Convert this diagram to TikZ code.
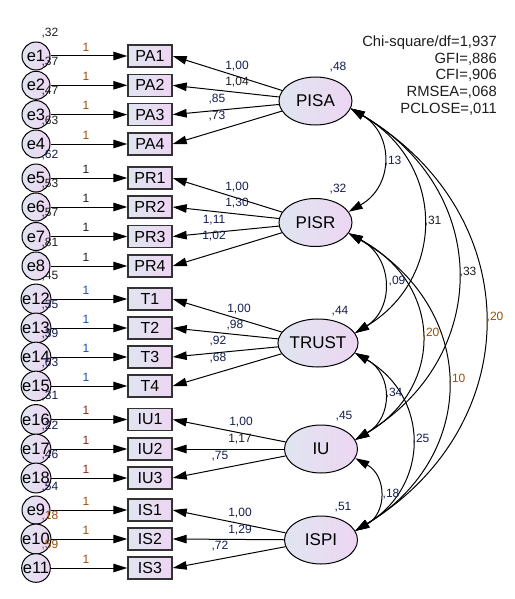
\documentclass[tikz,border=0pt]{standalone}
\usepackage{fontspec}
\setmainfont{Liberation Sans}
\usetikzlibrary{arrows.meta,calc,shapes.geometric}
\definecolor{fillL}{RGB}{224,229,240}
\definecolor{fillR}{RGB}{237,214,242}
\definecolor{cBrown}{RGB}{150,80,10}
\definecolor{cRed}{RGB}{140,40,20}
\definecolor{cBlue}{RGB}{20,80,170}
\definecolor{cNavy}{RGB}{20,30,80}
\definecolor{cDark}{RGB}{30,30,30}
\newcommand{\indrow}[7]{%
  \node[obs] (#1) at (150,#2) {#1};
  \node[err] (#3) at (36,#2) {#3};
  \draw[reg] (#3) -- (#1);
  \node[num, text=#5] (one#3) at (86,#2-9) {1};
  \node[num, text=#6] (v#3) at (50,#2-23) {#4};
  \draw[reg] (#7) -- (#1.east);
}
\begin{document}
\begin{tikzpicture}[x=1pt,y=-1pt,
  obs/.style={draw=black!80, line width=1.4pt, minimum width=44pt, minimum height=22pt,
    inner sep=0pt, left color=fillL, right color=fillR, font=\fontsize{16}{16}\selectfont},
  err/.style={circle, draw=black, line width=1pt, minimum size=28pt, inner sep=0pt,
    left color=fillL, right color=fillR, font=\fontsize{16.5}{16.5}\selectfont},
  lat/.style={ellipse, draw=black, line width=1pt, minimum width=73pt, minimum height=48pt,
    inner sep=0pt, left color=fillL, right color=fillR, font=\fontsize{17}{17}\selectfont},
  num/.style={inner sep=0pt, font=\fontsize{12}{12}\selectfont},
  tip/.tip={Triangle[length=14pt,width=8.5pt]},
  reg/.style={line width=1pt, -tip},
  cov/.style={line width=1pt, tip-tip},
]
\fill[white, use as bounding box] (0,0) rectangle (514,599);

% latent variables
\node[lat] (PISA)  at (315.5,101) {PISA};
\node[lat] (PISR)  at (315.5,222.5) {PISR};
\node[lat] (TRUST) at (318,343) {TRUST};
\node[lat] (IU)    at (321,449) {IU};
\node[lat] (ISPI)  at (321,540) {ISPI};

\node[num, text=cNavy] (vPISA)  at (338,67)  {,48};
\node[num, text=cNavy] (vPISR)  at (338,189) {,32};
\node[num, text=cNavy] (vTRUST) at (340,311) {,44};
\node[num, text=cNavy] (vIU)    at (344,416) {,45};
\node[num, text=cNavy] (vISPI)  at (343,507) {,51};

% indicators
\indrow{PA1}{56}{e1}{,32}{cBrown}{cDark}{PISA}
\indrow{PA2}{85.3}{e2}{,37}{cBrown}{cDark}{PISA}
\indrow{PA3}{114.6}{e3}{,47}{cBrown}{cDark}{PISA}
\indrow{PA4}{144}{e4}{,63}{cBrown}{cDark}{PISA}
\indrow{PR1}{178}{e5}{,62}{cDark}{cNavy}{PISR}
\indrow{PR2}{207}{e6}{,53}{cDark}{cDark}{PISR}
\indrow{PR3}{236.5}{e7}{,57}{cDark}{cDark}{PISR}
\indrow{PR4}{266}{e8}{,81}{cDark}{cDark}{PISR}
\indrow{T1}{299}{e12}{,45}{cBlue}{cDark}{TRUST}
\indrow{T2}{328}{e13}{,35}{cBlue}{cNavy}{TRUST}
\indrow{T3}{357}{e14}{,39}{cBlue}{cNavy}{TRUST}
\indrow{T4}{386}{e15}{,63}{cBlue}{cNavy}{TRUST}
\indrow{IU1}{419.5}{e16}{,31}{cRed}{cNavy}{IU}
\indrow{IU2}{449}{e17}{,22}{cRed}{cNavy}{IU}
\indrow{IU3}{478}{e18}{,46}{cRed}{cNavy}{IU}
\indrow{IS1}{510}{e9}{,54}{cBrown}{cNavy}{ISPI}
\indrow{IS2}{539}{e10}{,18}{cBrown}{cBrown}{ISPI}
\indrow{IS3}{568}{e11}{,59}{cBrown}{cBrown}{ISPI}

% loading labels
\node[num, text=cNavy] (lPA1) at (237,66)  {1,00};
\node[num, text=cDark] (lPA2) at (237,82)  {1,04};
\node[num, text=cNavy] (lPA3) at (217,99)  {,85};
\node[num, text=cNavy] (lPA4) at (217,116) {,73};
\node[num, text=cNavy] (lPR1) at (237,187) {1,00};
\node[num, text=cNavy] (lPR2) at (237,203) {1,30};
\node[num, text=cNavy] (lPR3) at (214,220) {1,11};
\node[num, text=cNavy] (lPR4) at (214,236) {1,02};
\node[num, text=cNavy] (lT1) at (239,309) {1,00};
\node[num, text=cNavy] (lT2) at (235,325) {,98};
\node[num, text=cNavy] (lT3) at (218,341) {,92};
\node[num, text=cNavy] (lT4) at (218,358) {,68};
\node[num, text=cNavy] (lIU1) at (241,422) {1,00};
\node[num, text=cDark] (lIU2) at (240,439) {1,17};
\node[num, text=cNavy] (lIU3) at (220,456) {,75};
\node[num, text=cNavy] (lIS1) at (240,513) {1,00};
\node[num, text=cNavy] (lIS2) at (240,530) {1,29};
\node[num, text=cNavy] (lIS3) at (220,546) {,72};

% covariances
\draw[cov] (PISA.-12) .. controls (394,134) and (394,186) .. (PISR.18);
\draw[cov] (PISA.-12) .. controls (446,164) and (446,278) .. (TRUST.15);
\draw[cov] (PISA.-12) .. controls (492,191) and (492,357) .. (IU.15);
\draw[cov] (PISA.-12) .. controls (528,214) and (528,425) .. (ISPI.15);
\draw[cov] (PISR.-18) .. controls (394,258) and (394,309) .. (TRUST.15);
\draw[cov] (PISR.-18) .. controls (444,285) and (444,388) .. (IU.15);
\draw[cov] (PISR.-18) .. controls (479,308) and (479,456) .. (ISPI.15);
\draw[cov] (TRUST.-15) .. controls (393,374) and (393,418) .. (IU.15);
\draw[cov] (TRUST.-15) .. controls (430,397) and (430,486) .. (ISPI.15);
\draw[cov] (IU.-15) .. controls (387,476) and (387,513) .. (ISPI.15);

\node[num, text=cNavy]  (c1)  at (393,161) {,13};
\node[num, text=cDark]  (c2)  at (433,221) {,31};
\node[num, text=cDark]  (c3)  at (468,272) {,33};
\node[num, text=cBrown] (c4)  at (495,317) {,20};
\node[num, text=cNavy]  (c5)  at (397,281) {,09};
\node[num, text=cBrown] (c6)  at (431,333) {,20};
\node[num, text=cBrown] (c7)  at (457,379) {,10};
\node[num, text=cNavy]  (c8)  at (394,393) {,34};
\node[num, text=cNavy]  (c9)  at (421,439) {,25};
\node[num, text=cNavy]  (c10) at (391,494) {,18};

% fit statistics
\node[align=right, anchor=east, inner sep=0pt, text=cDark,
  font=\fontsize{14.8}{16.75}\selectfont] (fit) at (497,75.5)
  {Chi-square/df=1,937\\GFI=,886\\CFI=,906\\RMSEA=,068\\PCLOSE=,011};
\end{tikzpicture}
\end{document}
